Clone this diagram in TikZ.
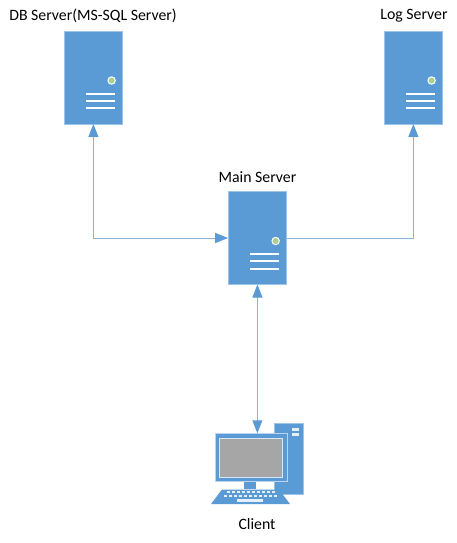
\documentclass[tikz,border=0pt]{standalone}
\usepackage{fontspec}
\setmainfont{Carlito}
\usepackage{tikz}
\usetikzlibrary{arrows.meta,calc,positioning}

\definecolor{srvblue}{HTML}{5B9BD5}
\definecolor{srvedge}{HTML}{9DC3E6}
\definecolor{linkblue}{HTML}{8DB2D8}
\definecolor{srvled}{HTML}{A9D18E}

\tikzset{
  server/.style={draw=srvedge,fill=srvblue,line width=0.6pt,inner sep=0pt,outer sep=0pt,
    minimum width=58.5pt,minimum height=93pt},
  label/.style={font=\fontsize{15.8}{18}\selectfont,inner sep=0pt,text=black},
  link/.style={draw=linkblue,line width=1pt,
    arrows={-Triangle[length=13pt,width=10pt,fill=srvblue,color=srvblue]}},
  biglink/.style={link,arrows={Triangle[length=13pt,width=10pt,fill=srvblue,color=srvblue]-Triangle[length=13pt,width=10pt,fill=srvblue,color=srvblue]}},
  serverface/.pic={
    \draw[white,line width=1pt,fill=srvled] (47.5,49.5) circle (3.7);
    \foreach \y in {62.7,69.8,77}
      \draw[white,line width=2pt] (22,\y) -- (51,\y);
  }
}

\begin{document}
\begin{tikzpicture}[x=1pt,y=-1pt]
  \useasboundingbox (0,0) rectangle (457,543);

  % servers
  \node[server] (db) at (93.4,77.5) {};
  \node[server] (log) at (413.4,77.5) {};
  \node[server] (main) at (257.4,238) {};
  \pic at (db.north west) {serverface};
  \pic at (log.north west) {serverface};
  \pic at (main.north west) {serverface};

  \node[label] (dblabel) at (93,16) {DB Server(MS-SQL Server)};
  \node[label] (loglabel) at (414,16) {Log Server};
  \node[label] (mainlabel) at (257.5,177) {Main Server};

  % client tower
  \draw[srvedge,fill=srvblue,line width=0.5pt] (274,423.5) rectangle (303.5,494);
  \fill[white!85!srvblue] (292,428) rectangle (299,431);
  \fill[white!85!srvblue] (292,433) rectangle (299,435.5);
  % client monitor
  \node[draw=srvedge!70!white,fill=srvblue,line width=0.7pt,inner sep=0pt,outer sep=0pt,
    minimum width=72pt,minimum height=48.5pt] (client) at (251,457.5) {};
  \draw[white!75!srvblue,fill=black!35,line width=0.8pt] (219.5,438) rectangle (282.5,477.5);
  \fill[srvblue] (244,482) rectangle (256,489);
  % keyboard
  \fill[srvblue] (222,489.5) -- (279,489.5) -- (290,504) -- (211,504) -- cycle;
  \foreach \i in {0,...,9}
    \fill[white!85!srvblue] ({226.5+\i*5},491) rectangle +(3.6,2.2);
  \foreach \i in {0,...,10}
    \fill[white!85!srvblue] ({223.5+\i*5},495) rectangle +(3.6,2.2);
  \fill[white!85!srvblue] (237,499) rectangle (263,501.5);

  \node[label] (clientlabel) at (257,524) {Client};

  % links
  \draw[biglink] (db.south) -- (db.south |- main.west) -- (main.west);
  \draw[link] (main.east) -- (log.south |- main.east) -- (log.south);
  \draw[biglink] (main.south) -- (main.south |- client.north);
\end{tikzpicture}
\end{document}
